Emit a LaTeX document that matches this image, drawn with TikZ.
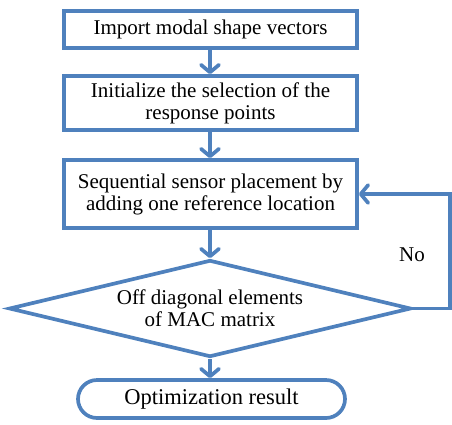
\documentclass[tikz,border=0pt]{standalone}
\usepackage{fontspec}
\setmainfont{Liberation Serif}
\usetikzlibrary{shapes.geometric,shapes.misc,arrows.meta}
\definecolor{flowblue}{HTML}{4F81BD}
\tikzset{
  x=1pt,y=-1pt,
  txt/.style={font=\fontsize{21}{22}\selectfont},
  stepbox/.style={draw=flowblue,line width=3.7pt,fill=white,minimum width=293pt,align=center,inner sep=2pt,txt},
  decision/.style={draw=flowblue,line width=3.7pt,diamond,aspect=4.15,minimum width=402pt,minimum height=97pt,inner sep=0pt,align=center,txt},
  terminal/.style={draw=flowblue,line width=3.7pt,rounded rectangle,minimum width=271pt,minimum height=38pt,inner sep=2pt,font=\fontsize{22.5}{24}\selectfont},
  flow/.style={draw=flowblue,line width=3.7pt,-{Straight Barb[length=7.5pt,width=18pt,line width=3.7pt,round]}},
}
\begin{document}
\begin{tikzpicture}
\useasboundingbox (0,0) rectangle (452,424);
\node[stepbox,minimum height=37pt] (b1) at (210.5,29.5) {Import modal shape vectors};
\node[stepbox,minimum height=54pt] (b2) at (210.5,103) {Initialize the selection of the\\response points};
\node[stepbox,minimum height=68pt] (b3) at (210.5,194) {Sequential sensor placement by\\adding one reference location};
\node[decision] (d) at (210,308.5) {Off diagonal elements\\of MAC matrix};
\node[terminal] (t) at (211.5,399) {Optimization result};
\coordinate (c1) at (450,308.5);
\coordinate (c2) at (450,194);
\node[txt] (no) at (412,255) {No};
\draw[flow] (b1.south -| 210,0) -- (b2.north -| 210,0);
\draw[flow] (b2.south -| 210,0) -- (b3.north -| 210,0);
\draw[flow] (b3.south -| 210,0) -- (d.north);
\draw[flow] (d.south) -- (t.north -| 210,0);
\draw[flow] (d.east) -- (c1) -- (c2) -- (b3.east);
\end{tikzpicture}
\end{document}
